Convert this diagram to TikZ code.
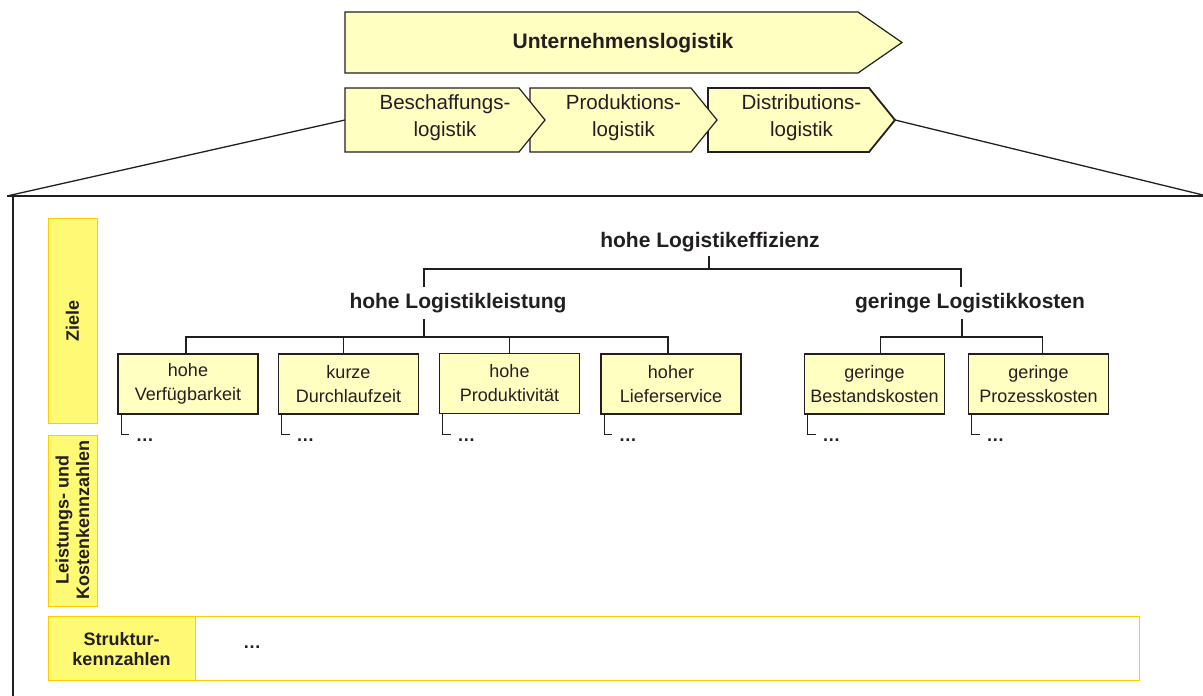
\documentclass[tikz,border=0pt]{standalone}
\usepackage{fontspec}
\setmainfont{Liberation Sans}
\definecolor{ink}{RGB}{35,31,32}
\definecolor{paleyellow}{RGB}{255,255,194}
\definecolor{baryellow}{RGB}{255,250,115}
\definecolor{goldline}{RGB}{255,204,0}
\begin{document}
\begin{tikzpicture}[x=1pt,y=-1pt,
  chev/.style={draw=ink,fill=paleyellow,line width=1.2pt,line join=miter},
  chevtext/.style={text=ink,align=center,inner sep=0pt,font=\fontsize{20.5}{27}\selectfont},
  head/.style={text=ink,inner sep=0pt,font=\bfseries\fontsize{21}{25}\selectfont},
  goal/.style={draw=ink,fill=paleyellow,line width=1.2pt,minimum width=140pt,minimum height=60pt,
    inner sep=0pt,align=center,text=ink,font=\fontsize{18}{24}\selectfont},
  tree/.style={draw=ink,line width=1.1pt},
  frame/.style={draw=ink,line width=2pt},
  slant/.style={draw=ink,line width=1.3pt},
  bar/.style={fill=baryellow,draw=goldline,line width=1pt},
  bartext/.style={text=ink,inner sep=0pt,align=center,font=\bfseries\fontsize{18}{20.5}\selectfont},
  more/.style={text=ink,inner sep=0pt,font=\bfseries\fontsize{18}{20}\selectfont},
]
\useasboundingbox (0,0) rectangle (1203,696);

% frame with the two lines fanning out from the sub-chevrons
\coordinate (fl) at (7,196);
\coordinate (fr) at (1203,196);
\coordinate (fv) at (13,196);
\coordinate (fb) at (13,696);
\coordinate (besW) at (345,120);
\coordinate (disE) at (895,120);
\draw[slant] (fl) -- (besW);
\draw[slant] (disE) -- (1203,195);
\draw[frame] (fl) -- (fr);
\draw[frame] (fv) -- (fb);

% top chevron
\filldraw[chev] (345,12) -- (858,12) -- (902,42.5) -- (858,73) -- (345,73) -- cycle;
\node[head] (ul) at (623,43) {Unternehmenslogistik};

% sub-chevrons
\filldraw[chev,line width=1.8pt] (708,88) -- (869,88) -- (895,120) -- (869,152) -- (708,152) -- cycle;
\filldraw[chev] (530,88) -- (691,88) -- (717,120) -- (691,152) -- (530,152) -- cycle;
\filldraw[chev] (345,88) -- (519,88) -- (545,120) -- (519,152) -- (345,152) -- cycle;
\node[chevtext] (bes) at (445,118) {Beschaffungs-\\logistik};
\node[chevtext] (pro) at (623.5,118) {Produktions-\\logistik};
\node[chevtext] (dis) at (801.5,118) {Distributions-\\logistik};

% side bars
\filldraw[bar] (48,218) rectangle (97,423);
\node[bartext,rotate=90] (ziele) at (72.5,321) {Ziele};
\filldraw[bar] (48,435) rectangle (97,606);
\node[bartext,rotate=90] (lk) at (72.5,520) {Leistungs- und\\Kostenkennzahlen};
\draw[goldline,line width=1pt] (195,616) rectangle (1139,680);
\filldraw[bar] (48,616) rectangle (195,680);
\node[bartext] (sk) at (121.5,649) {Struktur-\\kennzahlen};
\node[more] (skm) at (252,647) {…};

% goal hierarchy
\node[head] (eff) at (710,242) {hohe Logistikeffizienz};
\node[head] (lei) at (458,303) {hohe Logistikleistung};
\node[head] (kos) at (970,303) {geringe Logistikkosten};

\node[goal] (b1) at (188,384) {hohe\\Verfügbarkeit};
\node[goal] (b2) at (348.5,384) {kurze\\Durchlaufzeit};
\node[goal] (b3) at (509.5,383.5) {hohe\\Produktivität};
\node[goal] (b4) at (671,384) {hoher\\Lieferservice};
\node[goal] (b5) at (874.5,384) {geringe\\Bestandskosten};
\node[goal] (b6) at (1038.5,384) {geringe\\Prozesskosten};

\coordinate (effFoot) at (709,256);
\coordinate (effJ) at (709,269);
\coordinate (leiTop) at (424,287);
\coordinate (kosTop) at (961,287);
\coordinate (leiFoot) at (424,319);
\coordinate (leiJ) at (424,337);
\coordinate (kosFoot) at (962,319);
\coordinate (kosJ) at (962,337);

\draw[tree] (effFoot) -- (effJ);
\draw[tree] (leiTop) |- (effJ) -| (kosTop);
\draw[tree] (leiFoot) -- (leiJ);
\draw[tree] ([xshift=-2pt]b1.north) |- (leiJ) -| ([xshift=-3pt]b4.north);
\draw[tree] ([xshift=-5pt]b2.north) -- ([xshift=-5pt]b2.north |- leiJ);
\draw[tree] (b3.north) -- (b3.north |- leiJ);
\draw[tree] (kosFoot) -- (kosJ);
\draw[tree] ([xshift=6pt]b5.north) |- (kosJ) -| ([xshift=4pt]b6.north);

% continuation brackets under each goal
\foreach \b in {b1,b2,b3,b4,b5,b6}{
  \draw[tree] ([xshift=4pt]\b.south west) |- ++(8,20)
    node[more,anchor=base west,xshift=6pt,yshift=-7pt] (\b dots) {…};
}
\end{tikzpicture}
\end{document}
